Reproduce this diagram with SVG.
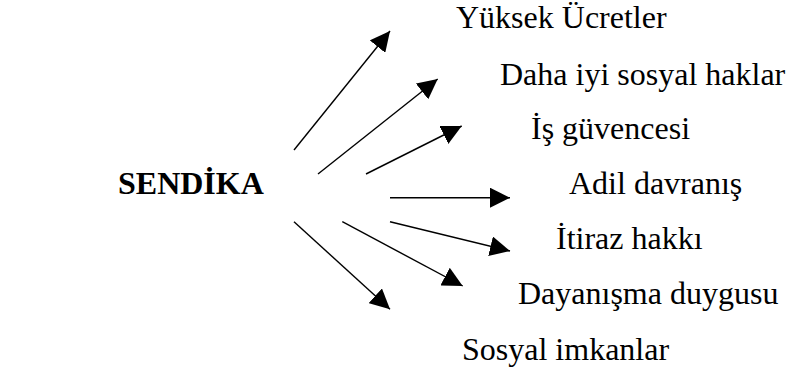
<svg xmlns="http://www.w3.org/2000/svg" width="792" height="376" viewBox="0 0 792 376">
  <style>
    text { font-family: 'Liberation Serif', 'Times New Roman', Times, 'DejaVu Serif', serif; font-size: 32px; fill: #000; }
    .hub { font-weight: bold; }
    .arrow { stroke: #000; stroke-width: 1.4; fill: none; marker-end: url(#head); }
  </style>
  <defs>
    <marker id="head" markerUnits="userSpaceOnUse" markerWidth="20" markerHeight="20" refX="20" refY="10" orient="auto">
      <path d="M0,0 L20,10 L0,20 Z" fill="#000"/>
    </marker>
  </defs>
  <rect width="792" height="376" fill="#fff"/>

  <g id="sendika"><text class="hub" x="118" y="194" font-family="Liberation Serif, serif">SENDİKA</text></g>

  <g id="yuksek-ucretler"><text x="456" y="28" font-family="Liberation Serif, serif">Yüksek Ücretler</text></g>
  <g id="sosyal-haklar"><text x="500" y="85" font-family="Liberation Serif, serif">Daha iyi sosyal haklar</text></g>
  <g id="is-guvencesi"><text x="531" y="139" font-family="Liberation Serif, serif">İş güvencesi</text></g>
  <g id="adil-davranis"><text x="569" y="194" font-family="Liberation Serif, serif">Adil davranış</text></g>
  <g id="itiraz-hakki"><text x="556" y="249" font-family="Liberation Serif, serif">İtiraz hakkı</text></g>
  <g id="dayanisma"><text x="518" y="304" font-family="Liberation Serif, serif">Dayanışma duygusu</text></g>
  <g id="sosyal-imkanlar"><text x="462" y="360" font-family="Liberation Serif, serif">Sosyal imkanlar</text></g>

  <g id="connectors">
    <line class="arrow" x1="294" y1="150" x2="390" y2="31"/>
    <line class="arrow" x1="318" y1="174" x2="437.7" y2="79"/>
    <line class="arrow" x1="366" y1="174" x2="461.7" y2="126"/>
    <line class="arrow" x1="390" y1="197.7" x2="510" y2="197.7"/>
    <line class="arrow" x1="390" y1="221.7" x2="510" y2="251"/>
    <line class="arrow" x1="342.3" y1="221.7" x2="462.7" y2="286"/>
    <line class="arrow" x1="294" y1="221.7" x2="390" y2="309.3"/>
  </g>
</svg>
